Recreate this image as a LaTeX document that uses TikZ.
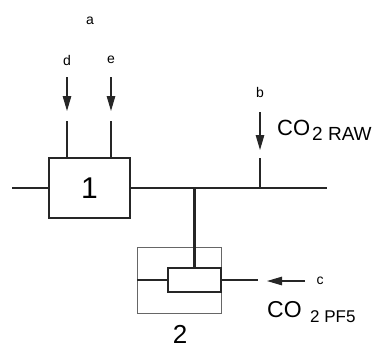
\documentclass[tikz,border=0pt]{standalone}
\usepackage{fontspec}
\setmainfont{Liberation Sans}
\usetikzlibrary{arrows.meta}
\begin{document}
\begin{tikzpicture}[x=1pt,y=-1pt,
  ln/.style={draw=black!85,line width=2.2pt},
  thin/.style={draw=black!60,line width=1pt},
  blk/.style={draw=black!85,line width=2.2pt,inner sep=0pt,fill=white},
  arr/.style={draw=black!85,line width=1.2pt,-{Triangle[length=15pt,width=8.5pt]}},
  lbl/.style={inner sep=0pt,font=\fontsize{14}{14}\selectfont},
  txt/.style={inner sep=0pt,anchor=base west}]
\useasboundingbox (0,0) rectangle (379,349);
% box 2 outer
\node[thin,minimum width=84pt,minimum height=66pt,inner sep=0pt] (outer) at (179,280) {};
% box 1
\node[blk,minimum width=81pt,minimum height=60pt,font=\fontsize{30}{30}\selectfont] (b1) at (89.5,188) {1};
% box 2 inner
\node[blk,minimum width=53pt,minimum height=24pt] (b2) at (194.5,280) {};
\node[inner sep=0pt,font=\fontsize{26}{26}\selectfont] (n2) at (180,334.5) {2};
% main line
\coordinate (L) at (12,188);
\coordinate (R) at (327,188);
\coordinate (J) at (194.5,188);
\coordinate (Jb) at (260,188);
\draw[ln] (L) -- (b1.west);
\draw[ln] (b1.east) -- (R);
\draw[ln] (J) -- (b2.north);
% labels
\node[lbl] (a) at (90,21) {a};
\node[lbl] (d) at (67,60) {d};
\node[lbl] (e) at (111,60) {e};
\node[lbl] (b) at (260,92) {b};
\node[lbl] (c) at (320,281) {c};
% d and e inputs
\coordinate (d1) at (67,77);
\coordinate (d2) at (67,111);
\coordinate (d3) at (67,121);
\coordinate (d4) at (67,158);
\coordinate (e1) at (111,77);
\coordinate (e2) at (111,111);
\coordinate (e3) at (111,121);
\coordinate (e4) at (111,158);
\draw[arr] (d1) -- (d2);
\draw[ln] (d3) -- (d4);
\draw[arr] (e1) -- (e2);
\draw[ln] (e3) -- (e4);
% b input
\coordinate (b1a) at (260,112);
\coordinate (b1b) at (260,150);
\coordinate (b1c) at (260,158);
\draw[arr] (b1a) -- (b1b);
\draw[ln] (b1c) -- (Jb);
% box 2 side lines
\coordinate (oL) at (137,280);
\coordinate (oR) at (258,280);
\draw[ln] (oL) -- (b2.west);
\draw[ln] (b2.east) -- (oR);
\coordinate (c1) at (305,281);
\coordinate (c2) at (267,281);
\draw[arr] (c1) -- (c2);
% CO2 texts
\node[txt,font=\fontsize{22}{22}\selectfont] (co1) at (277,135) {CO};
\node[txt,font=\fontsize{19}{19}\selectfont] (s1) at (312,140) {2 RAW};
\node[txt,font=\fontsize{23}{23}\selectfont] (co2) at (267,317) {CO};
\node[txt,font=\fontsize{17}{17}\selectfont] (s2) at (310,322) {2 PF5};
\end{tikzpicture}
\end{document}
